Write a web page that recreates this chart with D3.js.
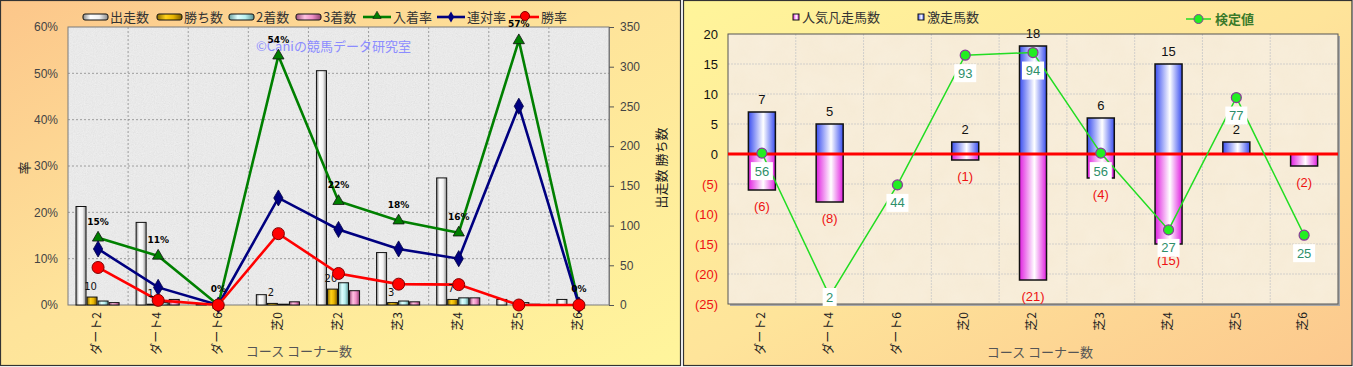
<!DOCTYPE html>
<html><head><meta charset="utf-8">
<script src="https://cdn.jsdelivr.net/npm/d3@7"></script>
<style>
html,body{margin:0;padding:0;background:#fff;}
svg{display:block;font-family:"Noto Sans CJK JP","Noto Sans",sans-serif;}
</style></head>
<body>
<svg id="c" width="1353" height="367"></svg>
<script>
// ---------- DATA ----------
const categories = ["ダート2","ダート4","ダート6","芝0","芝2","芝3","芝4","芝5","芝6"];
// left chart (counts, right axis)
const starts  = [124,104,1,13,295,66,160,7,7];
const wins    = [10,1,0,2,20,3,7,0,0];
const seconds = [5,3,0,1,28,5,9,3,0];
const thirds  = [3,7,0,4,18,4,9,1,0];
// left chart (rates %, left axis)
const placeRate    = [14.5,10.6,0,53.8,22.4,18.2,15.6,57.1,0];
const quinellaRate = [12.1,3.8,0,23.1,16.3,12.1,10.0,42.9,0];
const winRate      = [8.1,1.0,0,15.4,6.8,4.5,4.4,0,0];
const leftTicks  = [0,10,20,30,40,50,60];
const rightTicks = [0,50,100,150,200,250,300,350];
// right chart
const gekisou  = [7,5,0,2,18,6,15,2,0];
const ninki    = [-6,-8,0,-1,-21,-4,-15,0,-2];
const kentei   = [56,2,44,93,94,56,27,77,25];
const r2Ticks  = [-25,-20,-15,-10,-5,0,5,10,15,20];

const withCat = arr => arr.map((v,i)=>({v, c:categories[i]}));

// ---------- SETUP ----------
const svg = d3.select("#c");
const defs = svg.append("defs");
function lg(id, stops, x2=1, y2=0){
  const g = defs.append("linearGradient").attr("id",id).attr("x1",0).attr("y1",0).attr("x2",x2).attr("y2",y2);
  stops.forEach(s=>g.append("stop").attr("offset",s[0]).attr("stop-color",s[1]));
}
lg("bgL",[[0,"#fcc68a"],[0.45,"#fee39a"],[1,"#fff59c"]],1,1);
lg("bgR",[[0,"#fff59a"],[0.5,"#fee49a"],[1,"#fcc88d"]],1,1);
lg("gWhite",[[0,"#8a8a8a"],[0.3,"#ffffff"],[0.65,"#f2f2f2"],[1,"#8a8a8a"]]);
lg("gYellow",[[0,"#8a6a00"],[0.35,"#ffd21a"],[0.65,"#e8b400"],[1,"#7a5a00"]]);
lg("gCyan",[[0,"#6aa0a0"],[0.35,"#e0ffff"],[0.65,"#b8f0f0"],[1,"#5a9090"]]);
lg("gPink",[[0,"#a05080"],[0.35,"#ffc0e0"],[0.65,"#f090c8"],[1,"#904070"]]);
lg("gBlue",[[0,"#3a4ef0"],[0.55,"#ffffff"],[1,"#3a4ef0"]]);
lg("gMag",[[0,"#e020e0"],[0.55,"#ffffff"],[1,"#e020e0"]]);

const fN = defs.append("filter").attr("id","noise").attr("x",0).attr("y",0).attr("width","100%").attr("height","100%");
fN.append("feTurbulence").attr("type","fractalNoise").attr("baseFrequency",0.9).attr("numOctaves",3).attr("seed",3);
fN.append("feColorMatrix").attr("type","matrix").attr("values","0.33 0.33 0.33 0 0  0.33 0.33 0.33 0 0  0.33 0.33 0.33 0 0  0 0 0 0 0.55");
const fP = defs.append("filter").attr("id","parch").attr("x",0).attr("y",0).attr("width","100%").attr("height","100%");
fP.append("feTurbulence").attr("type","fractalNoise").attr("baseFrequency",0.04).attr("numOctaves",3).attr("seed",5);
fP.append("feColorMatrix").attr("type","matrix").attr("values","0 0 0 0 0.85  0 0 0 0 0.72  0 0 0 0 0.5  0 0 0 0.5 -0.1");

// panels
svg.append("rect").attr("x",0.5).attr("y",0.5).attr("width",680).attr("height",365).attr("fill","url(#bgL)").attr("stroke","#333").attr("stroke-width",1.2);
svg.append("rect").attr("x",683.5).attr("y",0.5).attr("width",668.5).attr("height",365).attr("fill","url(#bgR)").attr("stroke","#333").attr("stroke-width",1.2);

// ================= LEFT CHART =================
const L = {x0:68,x1:609,y0:27,y1:305};
const x = d3.scaleBand().domain(categories).range([L.x0,L.x1]);
const yL = d3.scaleLinear().domain([0,60]).range([L.y1,L.y0]);
const yR = d3.scaleLinear().domain([0,350]).range([L.y1,L.y0]);
const barSeries = ["starts","wins","seconds","thirds"];
const barData = {starts, wins, seconds, thirds};
const barFill = {starts:"url(#gWhite)", wins:"url(#gYellow)", seconds:"url(#gCyan)", thirds:"url(#gPink)"};
const xs = d3.scaleBand().domain(barSeries).range([8, x.bandwidth()-8]);

svg.append("rect").attr("x",L.x0).attr("y",L.y0).attr("width",L.x1-L.x0).attr("height",L.y1-L.y0).attr("fill","#f2f2f2");
svg.append("rect").attr("x",L.x0).attr("y",L.y0).attr("width",L.x1-L.x0).attr("height",L.y1-L.y0).attr("filter","url(#noise)").attr("opacity",0.3);

// grid
const gL = svg.append("g");
leftTicks.filter(t=>t>0 && t<60).forEach(t=>{
  gL.append("line").attr("x1",L.x0).attr("x2",L.x1).attr("y1",yL(t)).attr("y2",yL(t)).attr("stroke","#8a8a8a").attr("stroke-dasharray","2,2").attr("stroke-width",0.8);
});
categories.slice(1).forEach(c=>{
  const xx = x(c);
  gL.append("line").attr("x1",xx).attr("x2",xx).attr("y1",L.y0).attr("y2",L.y1).attr("stroke","#8a8a8a").attr("stroke-dasharray","2,2").attr("stroke-width",0.8);
});
svg.append("rect").attr("x",L.x0).attr("y",L.y0).attr("width",L.x1-L.x0).attr("height",L.y1-L.y0).attr("fill","none").attr("stroke","#7a7a7a").attr("stroke-width",1);

// watermark
svg.append("text").attr("x",256).attr("y",51).attr("font-size",13).attr("fill","#8c8cff").text("©Caniの競馬データ研究室");

// bars
barSeries.forEach(s=>{
  svg.append("g").selectAll("rect").data(withCat(barData[s])).join("rect")
    .attr("x",d=>x(d.c)+xs(s))
    .attr("width",xs.bandwidth()-1)
    .attr("y",d=>yR(d.v))
    .attr("height",d=>Math.max(0,L.y1-yR(d.v)))
    .attr("fill",barFill[s]).attr("stroke","#111").attr("stroke-width",1);
});

// lines
const cx = c=>x(c)+x.bandwidth()/2;
function drawLine(vals,color){
  svg.append("path").datum(withCat(vals)).attr("fill","none").attr("stroke",color).attr("stroke-width",2.6)
    .attr("d",d3.line().x(d=>cx(d.c)).y(d=>yL(d.v)));
}
drawLine(placeRate,"#008000");
drawLine(quinellaRate,"#000080");
drawLine(winRate,"#ff0000");
// win count labels
svg.append("g").selectAll("text").data(withCat(wins).filter(d=>d.v>0)).join("text")
  .attr("x",d=>x(d.c)+xs("wins")+xs.bandwidth()/2-2)
  .attr("y",d=>yR(d.v)-7)
  .attr("text-anchor","middle").attr("font-size",10).attr("font-family","DejaVu Sans").attr("fill","#111").text(d=>d.v);
// markers
const tri = d3.symbol().type(d3.symbolTriangle).size(55);
const dia = d3.symbol().type(d3.symbolDiamond).size(75);
svg.append("g").selectAll("path").data(withCat(placeRate)).join("path")
  .attr("transform",d=>`translate(${cx(d.c)},${yL(d.v)})`).attr("d",tri)
  .attr("fill","#008000").attr("stroke","#111").attr("stroke-width",0.8);
svg.append("g").selectAll("path").data(withCat(quinellaRate)).join("path")
  .attr("transform",d=>`translate(${cx(d.c)},${yL(d.v)})`).attr("d",dia)
  .attr("fill","#000080").attr("stroke","#000040").attr("stroke-width",0.8);
svg.append("g").selectAll("circle").data(withCat(winRate)).join("circle")
  .attr("cx",d=>cx(d.c)).attr("cy",d=>yL(d.v)).attr("r",6)
  .attr("fill","#ff0000").attr("stroke","#800000").attr("stroke-width",1);
// place-rate labels
svg.append("g").selectAll("text").data(withCat(placeRate)).join("text")
  .attr("x",d=>cx(d.c)).attr("y",d=>yL(d.v)-13)
  .attr("text-anchor","middle").attr("font-size",9).attr("font-weight","bold").attr("font-family","DejaVu Sans")
  .attr("fill","#000").text(d=>Math.round(d.v)+"%");

// left axis labels
svg.append("g").selectAll("text").data(leftTicks).join("text")
  .attr("x",58).attr("y",d=>yL(d)).attr("dy","0.35em").attr("text-anchor","end")
  .attr("font-size",12).attr("fill","#444").attr("font-family","Liberation Sans").text(d=>d+"%");
// right axis
const axR = svg.append("g").attr("transform",`translate(${L.x1},0)`)
  .call(d3.axisRight(yR).tickValues(rightTicks).tickSize(5).tickPadding(6));
axR.select(".domain").attr("stroke","#7a7a7a");
axR.selectAll("line").attr("stroke","#555");
axR.selectAll("text").attr("font-size",12).attr("fill","#444").attr("font-family","Liberation Sans");

// axis titles
svg.append("text").attr("transform","translate(25,168) rotate(-90)").attr("text-anchor","middle").attr("dominant-baseline","middle")
  .attr("font-size",13).attr("fill","#222").text("率");
svg.append("text").attr("transform","translate(662,168) rotate(-90)").attr("text-anchor","middle").attr("dominant-baseline","middle")
  .attr("font-size",13).attr("fill","#222").text("出走数 勝ち数");
svg.append("text").attr("x",299).attr("y",356).attr("text-anchor","middle").attr("font-size",13).attr("fill","#555").text("コース コーナー数");
// x labels
svg.append("g").selectAll("text").data(categories).join("text")
  .attr("transform",c=>`translate(${cx(c)},312) rotate(-90)`).attr("text-anchor","end").attr("dominant-baseline","middle")
  .attr("font-size",12).attr("fill","#222").text(c=>c);

// legend left
const legL = svg.append("g").attr("font-size",13).attr("fill","#333");
const legBars = [["出走数","url(#gWhite)",83],["勝ち数","url(#gYellow)",157],["2着数","url(#gCyan)",229],["3着数","url(#gPink)",296]];
legBars.forEach(b=>{
  legL.append("rect").attr("x",b[2]).attr("y",14).attr("width",25).attr("height",6).attr("rx",2)
    .attr("fill",b[1]).attr("stroke","#111").attr("stroke-width",1);
  legL.append("text").attr("x",b[2]+27).attr("y",17).attr("dy","0.35em").text(b[0]);
});
const legLines = [["入着率","#008000",363,"tri"],["連対率","#000080",437,"dia"],["勝率","#ff0000",511,"cir"]];
legLines.forEach(b=>{
  legL.append("line").attr("x1",b[2]).attr("x2",b[2]+28).attr("y1",17).attr("y2",17).attr("stroke",b[1]).attr("stroke-width",2.6);
  const mx=b[2]+14;
  if(b[3]==="tri") legL.append("path").attr("transform",`translate(${mx},16)`).attr("d",d3.symbol().type(d3.symbolTriangle).size(30)).attr("fill",b[1]).attr("stroke","#111").attr("stroke-width",0.6);
  if(b[3]==="dia") legL.append("path").attr("transform",`translate(${mx},17)`).attr("d",d3.symbol().type(d3.symbolDiamond).size(36)).attr("fill",b[1]);
  if(b[3]==="cir") legL.append("circle").attr("cx",mx).attr("cy",16).attr("r",4.5).attr("fill",b[1]).attr("stroke","#800000");
  legL.append("text").attr("x",b[2]+30).attr("y",17).attr("dy","0.35em").text(b[0]);
});

// ================= RIGHT CHART =================
const R = {x0:728,x1:1338,y0:34,y1:304};
const x2 = d3.scaleBand().domain(categories).range([R.x0,R.x1]);
const y2 = d3.scaleLinear().domain([-25,20]).range([R.y1,R.y0]);
const yK = d3.scaleLinear().domain([-1,101]).range([R.y1,R.y0]);
const cx2 = c=>x2(c)+x2.bandwidth()/2;
const bw2 = 27;

svg.append("rect").attr("x",R.x0+2).attr("y",R.y0+2).attr("width",R.x1-R.x0).attr("height",R.y1-R.y0).attr("fill","#a8a8a8");
svg.append("rect").attr("x",R.x0).attr("y",R.y0).attr("width",R.x1-R.x0).attr("height",R.y1-R.y0).attr("fill","#f8eedb");
svg.append("rect").attr("x",R.x0).attr("y",R.y0).attr("width",R.x1-R.x0).attr("height",R.y1-R.y0).attr("filter","url(#parch)").attr("opacity",0.5);
const gR = svg.append("g");
r2Ticks.filter(t=>t>-25 && t<20).forEach(t=>{
  gR.append("line").attr("x1",R.x0).attr("x2",R.x1).attr("y1",y2(t)).attr("y2",y2(t)).attr("stroke","#c8c8c8").attr("stroke-dasharray","2,1").attr("stroke-width",0.8);
});
categories.slice(1).forEach(c=>{
  gR.append("line").attr("x1",x2(c)).attr("x2",x2(c)).attr("y1",R.y0).attr("y2",R.y1).attr("stroke","#c8c8c8").attr("stroke-dasharray","2,1").attr("stroke-width",0.8);
});
svg.append("rect").attr("x",R.x0).attr("y",R.y0).attr("width",R.x1-R.x0).attr("height",R.y1-R.y0).attr("fill","none").attr("stroke","#555").attr("stroke-width",1);

// bars
svg.append("g").selectAll("rect").data(withCat(gekisou).filter(d=>d.v!==0)).join("rect")
  .attr("x",d=>cx2(d.c)-bw2/2).attr("width",bw2)
  .attr("y",d=>y2(d.v)).attr("height",d=>y2(0)-y2(d.v))
  .attr("fill","url(#gBlue)").attr("stroke","#111").attr("stroke-width",1.5);
svg.append("g").selectAll("rect").data(withCat(ninki).filter(d=>d.v!==0)).join("rect")
  .attr("x",d=>cx2(d.c)-bw2/2).attr("width",bw2)
  .attr("y",y2(0)).attr("height",d=>y2(d.v)-y2(0))
  .attr("fill","url(#gMag)").attr("stroke","#111").attr("stroke-width",1.5);
// zero line
svg.append("line").attr("x1",R.x0).attr("x2",R.x1).attr("y1",y2(0)).attr("y2",y2(0)).attr("stroke","#ff0000").attr("stroke-width",3);

// bar labels
svg.append("g").selectAll("text").data(withCat(gekisou).filter(d=>d.v!==0)).join("text")
  .attr("x",d=>cx2(d.c)).attr("y",d=>y2(d.v)-13).attr("dy","0.35em")
  .attr("text-anchor","middle").attr("font-size",13).attr("fill","#111").attr("font-family","Liberation Sans").text(d=>d.v);
svg.append("g").selectAll("text").data(withCat(ninki).filter(d=>d.v!==0)).join("text")
  .attr("x",d=>cx2(d.c)).attr("y",d=>y2(d.v)+16).attr("dy","0.35em")
  .attr("text-anchor","middle").attr("font-size",13).attr("fill","#ee1111").attr("font-family","Liberation Sans").text(d=>"("+(-d.v)+")");

// kentei line
svg.append("path").datum(withCat(kentei)).attr("fill","none").attr("stroke","#22dd22").attr("stroke-width",1.5)
  .attr("d",d3.line().x(d=>cx2(d.c)).y(d=>yK(d.v)));
svg.append("g").selectAll("circle").data(withCat(kentei)).join("circle")
  .attr("cx",d=>cx2(d.c)).attr("cy",d=>yK(d.v)).attr("r",5)
  .attr("fill","#22ee22").attr("stroke","#8a3a9a").attr("stroke-width",1.2);
const kl = svg.append("g").selectAll("g").data(withCat(kentei)).join("g")
  .attr("transform",d=>`translate(${cx2(d.c)},${Math.min(yK(d.v)+18,R.y1-7)})`);
kl.append("rect").attr("x",d=>-(String(d.v).length*4+3)).attr("y",-9).attr("width",d=>String(d.v).length*8+6).attr("height",18).attr("fill","#fff");
kl.append("text").attr("text-anchor","middle").attr("dy","0.35em").attr("font-size",13).attr("fill","#2e8f6a").attr("font-family","Liberation Sans").text(d=>d.v);

// y axis labels
svg.append("g").selectAll("text").data(r2Ticks).join("text")
  .attr("x",718).attr("y",d=>y2(d)).attr("dy","0.35em").attr("text-anchor","end")
  .attr("font-size",13).attr("font-family","Liberation Sans")
  .attr("fill",d=>d<0?"#ee1111":"#111").text(d=>d<0?"("+(-d)+")":d);
// x labels
svg.append("g").selectAll("text").data(categories).join("text")
  .attr("transform",c=>`translate(${cx2(c)},312) rotate(-90)`).attr("text-anchor","end").attr("dominant-baseline","middle")
  .attr("font-size",12).attr("fill","#222").text(c=>c);
svg.append("text").attr("x",1040).attr("y",357).attr("text-anchor","middle").attr("font-size",13).attr("fill","#555").text("コース コーナー数");

// right legend
const legR = svg.append("g").attr("font-size",13).attr("fill","#333");
legR.append("rect").attr("x",793).attr("y",14).attr("width",6).attr("height",6).attr("fill","url(#gMag)").attr("stroke","#111");
legR.append("text").attr("x",802).attr("y",17).attr("dy","0.35em").text("人気凡走馬数");
legR.append("rect").attr("x",918).attr("y",14).attr("width",6).attr("height",6).attr("fill","url(#gBlue)").attr("stroke","#111");
legR.append("text").attr("x",927).attr("y",17).attr("dy","0.35em").text("激走馬数");
legR.append("line").attr("x1",1186).attr("x2",1211).attr("y1",19).attr("y2",19).attr("stroke","#22dd22").attr("stroke-width",1.5);
legR.append("circle").attr("cx",1198.5).attr("cy",19).attr("r",4.5).attr("fill","#22ee22").attr("stroke","#8a3a9a");
legR.append("text").attr("x",1215).attr("y",19).attr("dy","0.35em").attr("fill","#3a7a2a").attr("font-weight","bold").text("検定値");
</script>
</body></html>
